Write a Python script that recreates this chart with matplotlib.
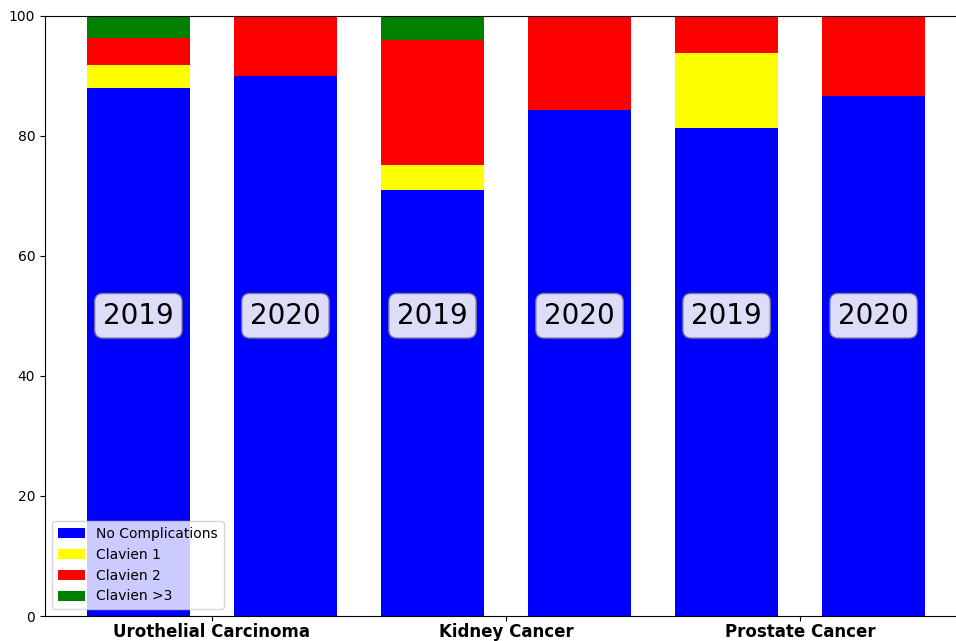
import numpy as np
import matplotlib
matplotlib.use("Agg")
import matplotlib.pyplot as plt

# data: 6 bars = (2019, 2020) for each cancer type
groups = ["Urothelial Carcinoma", "Kidney Cancer", "Prostate Cancer"]
years = ["2019", "2020", "2019", "2020", "2019", "2020"]
no_comp = [87.9, 90.0, 71.0, 84.2, 81.3, 86.6]
clavien1 = [3.9, 0.0, 4.1, 0.0, 12.5, 0.0]
clavien2 = [4.5, 10.0, 20.8, 15.8, 6.2, 13.4]
clavien3 = [3.7, 0.0, 4.1, 0.0, 0.0, 0.0]

fig = plt.figure(figsize=(9.56, 6.41), dpi=100)
ax = fig.add_axes([45 / 956, 25 / 641, 922 / 956, 600.5 / 641])

x = np.arange(len(years))
w = 0.7
b1 = np.array(no_comp)
b2 = b1 + np.array(clavien1)
b3 = b2 + np.array(clavien2)
ax.bar(x, no_comp, w, color="blue", label="No Complications")
ax.bar(x, clavien1, w, bottom=b1, color="yellow", label="Clavien 1")
ax.bar(x, clavien2, w, bottom=b2, color="red", label="Clavien 2")
ax.bar(x, clavien3, w, bottom=b3, color="green", label="Clavien >3")

# year boxes in the middle of each bar
for xi, yr in zip(x, years):
    ax.text(xi, 50, yr, ha="center", va="center", fontsize=20,
            bbox=dict(boxstyle="round", facecolor="lavender",
                      edgecolor=(0.45, 0.45, 0.6), alpha=0.97))

ax.set_xticks([0.5, 2.5, 4.5])
ax.set_xticklabels(groups, fontweight="bold", fontsize=12)
ax.tick_params(axis="x", pad=1.5)
ax.set_ylim(0, 100)
ax.legend(loc="lower left")

fig.savefig("out.png", dpi=100)
